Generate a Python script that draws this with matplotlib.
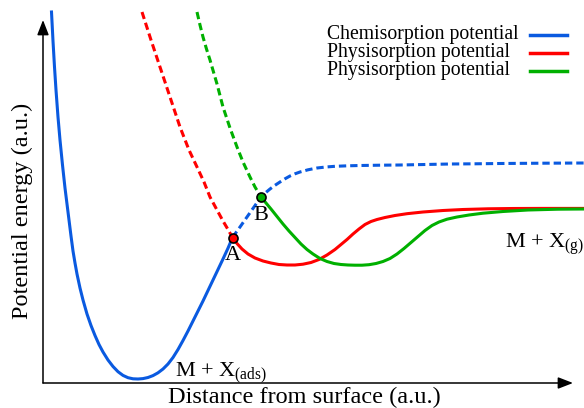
import matplotlib
matplotlib.use("Agg")
import matplotlib.pyplot as plt

plt.rcParams['font.family'] = ['Liberation Serif', 'DejaVu Serif']
plt.rcParams['mathtext.fontset'] = 'custom'
plt.rcParams['mathtext.rm'] = 'Liberation Serif'

BLUE = '#0a5ae0'
RED = '#ff0000'
GREEN = '#00b000'

# chemisorption curve (solid up to crossing A, dashed after it)
chem_x = [8.5, 10, 11.5, 13, 15, 17, 19.5, 22, 25, 28, 30, 32, 34, 37, 40, 44, 48, 52,
          56, 60, 65, 70, 75, 80, 85, 90, 95, 100, 105, 110, 115, 120, 125, 130, 135,
          140, 145, 150, 155, 160, 165, 170, 175, 180, 185, 189.5]
chem_y = [371, 342, 316, 293, 266, 243, 218, 195, 171, 147, 132, 120, 109, 95, 83, 69,
          57.5, 47.5, 38.5, 31, 23, 16.5, 11.3, 7.6, 5.3, 4.2, 4, 4.4, 5.5, 7.4, 10.2,
          14, 19, 25.5, 33.5, 42.5, 52, 62, 72, 82, 92.5, 103, 113.5, 124, 134.8, 145.5]
chem_dx = [189.5, 193, 197, 200.5, 204, 207.5, 211, 214.5, 218, 222.5, 227, 232, 237,
           242, 247, 252, 257, 265, 274, 283, 292, 305, 317, 337, 357, 382, 407, 432,
           457, 500, 541]
chem_dy = [145.5, 150.5, 156, 161, 166, 171, 176, 181, 186, 190.2, 194, 197.7, 201,
           204.2, 207, 209.2, 211, 213.2, 215, 216, 216.7, 217.2, 217.5, 217.8, 218,
           218.5, 219, 219.2, 219.5, 219.8, 220]

# first physisorption curve (dashed up to A, solid after it)
phys1_dx = [99, 103.5, 108, 112.5, 117, 122, 127, 132, 137, 141.5, 146, 150, 154,
            157.5, 161, 164, 167, 170.5, 174, 177, 180, 185, 189.5]
phys1_dy = [371, 357, 343, 329.5, 316, 301, 286, 271, 256, 244.5, 233, 224.5, 216,
            208.5, 201, 193.5, 186, 179.5, 173, 167.5, 162, 153.5, 145.5]
phys1_x = [189.5, 194, 199, 205, 212, 220, 228, 236, 244, 252, 260, 268, 276, 284, 292,
           298, 304, 310, 316, 322, 328, 334, 342, 352, 364, 380, 400, 420, 445, 470,
           500, 541]
phys1_y = [145.5, 139.5, 134, 129, 125, 122, 120, 118.5, 118, 118, 118.8, 120.5, 123.5,
           128, 133.5, 138.5, 143.5, 149, 154, 158.5, 161.5, 163.5, 165.5, 167.5, 169.3,
           171, 172.5, 173.5, 174.2, 174.5, 174.6, 174.6]

# second physisorption curve (dashed up to B, solid after it)
phys2_dx = [154, 157, 160, 163.5, 167, 170.5, 174, 177, 180, 183.5, 187, 190.5, 194,
            197, 200, 203.5, 207, 212, 215, 218]
phys2_dy = [371, 358, 346, 334, 323, 311, 299, 287.5, 276, 265.5, 255, 245.5, 236,
            228.5, 221, 213.5, 206, 196, 191, 186]
phys2_x = [218, 223, 228, 234, 240, 246, 252, 258, 264, 270, 277, 284, 291, 298, 305,
           312, 319, 326, 333, 340, 347, 354, 361, 368, 375, 382, 389, 396, 404, 414,
           426, 440, 460, 485, 515, 541]
phys2_y = [186, 180, 174, 166.5, 159, 152, 145.5, 139, 133.5, 129, 124.5, 121.5, 119.5,
           118.5, 118, 117.8, 117.8, 118.3, 119.5, 121.5, 124.5, 129, 134.5, 140.5,
           146.5, 152.5, 157.5, 161, 163.8, 166, 168, 169.8, 171.5, 173, 173.8, 174]

fig = plt.figure(figsize=(5.84, 4.08), dpi=100)
ax = fig.add_axes([0, 0, 1, 1])
ax.set_xlim(-43, 541)
ax.set_ylim(-25, 383)
ax.axis('off')

lw = 2.2
dash = (2.4, 1.3)
ax.plot(chem_x, chem_y, color=BLUE, lw=lw)
ax.plot(chem_dx, chem_dy, color=BLUE, lw=lw, dashes=dash)
ax.plot(phys1_dx, phys1_dy, color=RED, lw=lw, dashes=dash)
ax.plot(phys1_x, phys1_y, color=RED, lw=lw)
ax.plot(phys2_dx, phys2_dy, color=GREEN, lw=lw, dashes=dash)
ax.plot(phys2_x, phys2_y, color=GREEN, lw=lw)

# crossing points
ax.plot(phys1_x[0], phys1_y[0], 'o', ms=6.5, mfc=RED, mec='black', mew=1.2, zorder=5)
ax.plot(phys2_x[0], phys2_y[0], 'o', ms=6.5, mfc=GREEN, mec='black', mew=1.2, zorder=5)
ax.text(phys1_x[0], phys1_y[0] - 9, 'A', ha='center', va='top', fontsize=16)
ax.text(phys2_x[0], phys2_y[0] - 9, 'B', ha='center', va='top', fontsize=16)

# axes with arrow heads
arrow = dict(arrowstyle='-|>,head_length=0.9,head_width=0.35', color='black', lw=1.1,
             shrinkA=0, shrinkB=0)
ax.annotate('', xy=(0, 363), xytext=(0, 0), arrowprops=arrow)
ax.annotate('', xy=(530, 0), xytext=(0, 0), arrowprops=arrow)
ax.text(261, -14, 'Distance from surface (a.u.)', ha='center', va='center', fontsize=17.5)
ax.text(-21, 172, 'Potential energy (a.u.)', ha='center', va='center', rotation=90,
        fontsize=17.5)

ax.text(132, 6, r'M + X$_{\mathrm{(ads)}}$', ha='left', va='baseline', fontsize=16)
ax.text(462, 135, r'M + X$_{\mathrm{(g)}}$', ha='left', va='baseline', fontsize=16)

# legend, text left aligned with line samples on the right
labels = ['Chemisorption potential', 'Physisorption potential', 'Physisorption potential']
for i, (lab, c) in enumerate(zip(labels, [BLUE, RED, GREEN])):
    yy = 1 - (35 + 18 * i) / 408
    fig.text(327 / 584, yy, lab, ha='left', va='center', fontsize=14.2)
    fig.add_artist(plt.Line2D([530 / 584, 567 / 584], [yy, yy], color=c, lw=2.5,
                              transform=fig.transFigure))

fig.savefig('out.png', dpi=100)
